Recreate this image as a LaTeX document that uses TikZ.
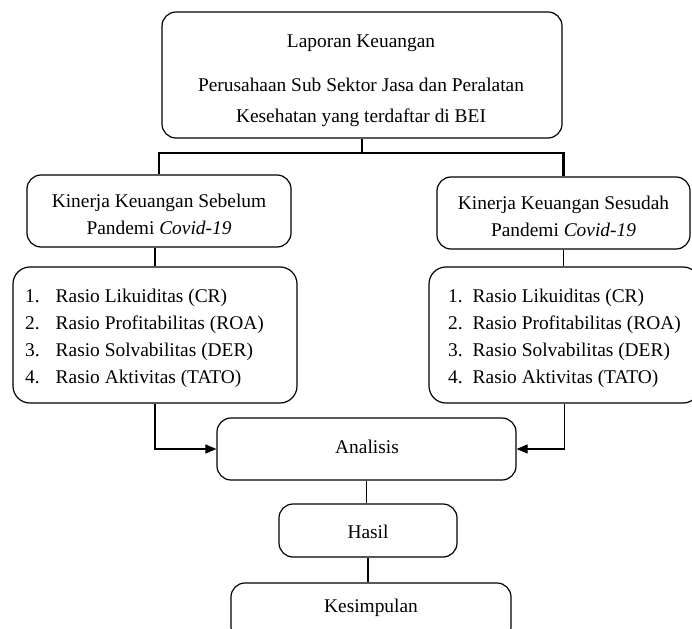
\documentclass[tikz,border=0pt]{standalone}
\usepackage{fontspec}
\setmainfont{Liberation Serif}
\usetikzlibrary{arrows.meta}
\begin{document}
\begin{tikzpicture}[x=1pt,y=-1pt,
  box/.style={draw, rounded corners=14pt, line width=1.2pt, inner sep=0pt, align=center},
  txt/.style={inner sep=0pt, align=center},
  listtext/.style={anchor=west, inner sep=0pt},
  conn/.style={line width=1.2pt},
  bracket/.style={line width=2.2pt},
  arr/.style={line width=1.2pt, -{Triangle[length=11pt,width=9pt]}},
  font=\fontsize{19.4}{27}\selectfont]
\useasboundingbox (0,0) rectangle (692,628);
\clip (0,0) rectangle (692,628);

\node[box, minimum width=400pt, minimum height=126pt] (top) at (362,75) {};
\node[txt] (topt) at (361,81)
  {Laporan Keuangan\\[17pt]Perusahaan Sub Sektor Jasa dan Peralatan\\[4pt]Kesehatan yang terdaftar di BEI};

\node[box, minimum width=264pt, minimum height=72pt] (kl) at (159,211) {};
\node[txt] (klt) at (159,214.5) {Kinerja Keuangan Sebelum\\Pandemi \textit{Covid-19}};
\node[box, minimum width=253pt, minimum height=72pt] (kr) at (563.5,213) {};
\node[txt] (krt) at (563.5,216.5) {Kinerja Keuangan Sesudah\\Pandemi \textit{Covid-19}};

\node[box, rounded corners=17pt, minimum width=284pt, minimum height=136pt] (ll) at (155,335) {};
\node[box, rounded corners=17pt, minimum width=271pt, minimum height=136pt] (rl) at (564.5,335) {};

\node[listtext] (llt) at (25,337.6) {\begin{tabular}{@{}l@{\hspace{16pt}}l@{}}
1. & Rasio Likuiditas (CR)\\
2. & Rasio Profitabilitas (ROA)\\
3. & Rasio Solvabilitas (DER)\\
4. & Rasio Aktivitas (TATO)
\end{tabular}};
\node[listtext] (rlt) at (448,337.6) {\begin{tabular}{@{}l@{\hspace{10pt}}l@{}}
1. & Rasio Likuiditas (CR)\\
2. & Rasio Profitabilitas (ROA)\\
3. & Rasio Solvabilitas (DER)\\
4. & Rasio Aktivitas (TATO)
\end{tabular}};

\node[box, minimum width=299pt, minimum height=62pt] (an) at (366.5,449) {};
\node[txt] (ant) at (367,447) {Analisis};
\node[box, minimum width=178pt, minimum height=53pt] (ha) at (368,530.5) {};
\node[txt] (hat) at (368,532) {Hasil};
\node[box, minimum width=280pt, minimum height=58pt] (ke) at (371,612) {};
\node[txt] (ket) at (371,608) {Kesimpulan};

\coordinate (j) at (362,153);
\draw[bracket] (top.south) -- (top.south |- j);
\draw[bracket] (kl.north) -- (kl.north |- j) -- (kr.north |- j) -- (kr.north);
\draw[conn] (ll.north) -- (ll.north |- kl.south);
\draw[conn] (kr.south) -- (kr.south |- rl.north);
\draw[arr] (ll.south) |- (an.west);
\draw[arr] (rl.south) |- (an.east);
\draw[conn] (an.south) -- (an.south |- ha.north);
\draw[conn] (ha.south) -- (ha.south |- ke.north);
\end{tikzpicture}
\end{document}
